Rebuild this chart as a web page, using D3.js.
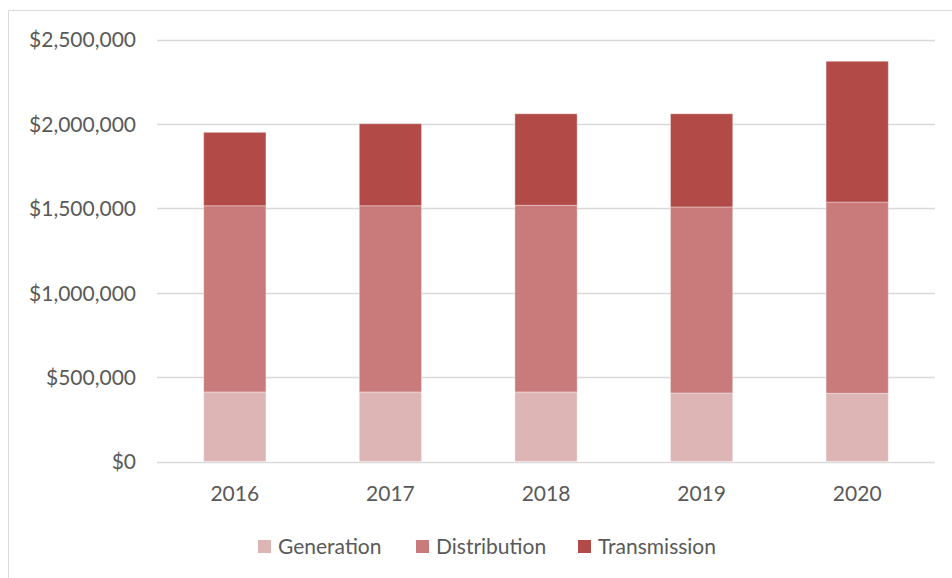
<!DOCTYPE html>
<html>
<head>
<meta charset="utf-8">
<script src="https://cdn.jsdelivr.net/npm/d3@7/dist/d3.min.js"></script>
<style>
  html, body { margin: 0; padding: 0; background: #fff; }
  svg { display: block; }
  text { font-family: Lato, "Open Sans", sans-serif; fill: #595959; }
</style>
</head>
<body>
<svg id="chart" width="952" height="578"></svg>
<script>
const years = ["2016", "2017", "2018", "2019", "2020"];
const seriesNames = ["Generation", "Distribution", "Transmission"];
const generation   = [412000, 412000, 412000, 406000, 404000];
const distribution = [1103000, 1103000, 1106000, 1102000, 1133000];
const transmission = [435000, 486000, 542000, 552000, 834000];
const yTicks = [0, 500000, 1000000, 1500000, 2000000, 2500000];
const colors = ["#DEB5B5", "#C97B7B", "#B24A47"];

const svg = d3.select("#chart");
const W = 952, H = 578;

// outer border (top and left visible)
svg.append("line").attr("x1", 8.5).attr("x2", W).attr("y1", 10.5).attr("y2", 10.5)
  .attr("stroke", "#d9d9d9").attr("stroke-width", 1);
svg.append("line").attr("x1", 8.5).attr("x2", 8.5).attr("y1", 10.5).attr("y2", H)
  .attr("stroke", "#d9d9d9").attr("stroke-width", 1);

const plotLeft = 157, plotRight = 935, plotTop = 39.5, plotBottom = 461.5;

const x = d3.scaleBand().domain(years).range([plotLeft, plotRight])
  .paddingInner(0.6).paddingOuter(0.3);
const y = d3.scaleLinear().domain([0, 2500000]).range([plotBottom, plotTop]);

// gridlines
svg.append("g").selectAll("line").data(yTicks).join("line")
  .attr("x1", plotLeft).attr("x2", plotRight)
  .attr("y1", d => Math.round(y(d)) + 0.5).attr("y2", d => Math.round(y(d)) + 0.5)
  .attr("stroke", "#d9d9d9").attr("stroke-width", 1.3);

// y axis labels
const yAxis = d3.axisLeft(y).tickValues(yTicks)
  .tickFormat(d => "$" + d3.format(",")(d)).tickSize(0).tickPadding(0);
const gy = svg.append("g").attr("transform", `translate(136,0)`).call(yAxis);
gy.select(".domain").remove();
gy.selectAll("text").attr("font-size", 21).attr("font-family", "Lato, sans-serif")
  .attr("fill", "#595959").attr("dy", "0.35em");

// stacked data
const table = years.map((yr, i) => ({
  year: yr,
  Generation: generation[i],
  Distribution: distribution[i],
  Transmission: transmission[i]
}));
const stacked = d3.stack().keys(seriesNames)(table);

svg.append("g").selectAll("g").data(stacked).join("g")
  .attr("fill", (d, i) => colors[i])
  .selectAll("rect").data(d => d).join("rect")
  .attr("x", d => x(d.data.year))
  .attr("width", x.bandwidth())
  .attr("y", d => y(d[1]))
  .attr("height", d => y(d[0]) - y(d[1]))
  .attr("stroke", "rgba(255,255,255,0.35)")
  .attr("stroke-width", 1);

// x axis labels
const xAxis = d3.axisBottom(x).tickSize(0).tickPadding(0);
const gx = svg.append("g").attr("transform", `translate(0,${plotBottom})`).call(xAxis);
gx.select(".domain").remove();
gx.selectAll("text").attr("font-size", 21).attr("font-family", "Lato, sans-serif")
  .attr("fill", "#595959").attr("y", 32).attr("dy", "0.35em");

// legend
const legendX = [258, 416, 578];
const lg = svg.append("g").selectAll("g").data(seriesNames).join("g")
  .attr("transform", (d, i) => `translate(${legendX[i]},540)`);
lg.append("rect").attr("width", 13).attr("height", 13).attr("fill", (d, i) => colors[i]);
lg.append("text").attr("x", 20).attr("y", 6.5).attr("dy", "0.35em")
  .attr("font-size", 21).text(d => d);
</script>
</body>
</html>
